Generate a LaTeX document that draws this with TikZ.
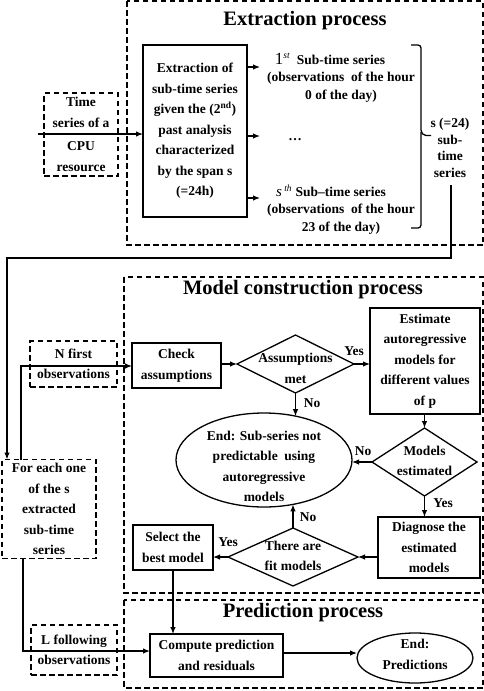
\documentclass[tikz,border=0pt]{standalone}
\usepackage{fontspec}
\setmainfont{Liberation Serif}
\usetikzlibrary{shapes.geometric,arrows.meta,calc}
\begin{document}
\begin{tikzpicture}[x=1pt,y=-1pt,
  every node/.style={font=\fontsize{13.5}{20.5}\selectfont\bfseries, align=center, inner sep=0pt, outer sep=0pt},
  sbox/.style={draw, line width=1.3pt, rectangle},
  dbox/.style={draw, line width=1.3pt, dash pattern=on 5.5pt off 3.5pt},
  diam/.style={draw, line width=1.3pt, diamond},
  ell/.style={draw, line width=1.3pt, ellipse},
  arr/.style={-{Latex[length=7pt,width=5.5pt]}, line width=1.2pt},
  ttl/.style={font=\fontsize{20.5}{24}\selectfont\bfseries},
  subtxt/.style={font=\fontsize{13.5}{17.5}\selectfont\bfseries},
  lbl/.style={font=\fontsize{13.5}{16}\selectfont\bfseries}
]
\useasboundingbox (0,0) rectangle (484,691);

% process frames
\draw[dbox] (127,1) rectangle (483,245);
\draw[dbox] (124,277) rectangle (483,593);
\draw[dbox] (124,600) rectangle (483,688);

\node[ttl] (t1) at (305,21) {Extraction process};
\node[ttl] (t2) at (303,290) {Model construction process};
\node[ttl] (t3) at (303,613) {Prediction process};

% extraction
\node[sbox, minimum width=104pt, minimum height=172pt] (extr) at (195,131)
  {Extraction of\\sub-time series\\given the (2\textsuperscript{nd})\\past analysis\\characterized\\by the span s\\(=24h)};
\node[dbox, minimum width=74pt, minimum height=83pt] (time) at (81,134.5)
  {Time\\series of a\\[3pt]CPU\\resource};
\coordinate (tin) at (38,134);
\draw[arr] (tin) -- (tin -| extr.west);

\node[subtxt] (sub1) at (341,77.5)
  {{\fontsize{17}{17}\selectfont\mdseries 1}\textsuperscript{\mdseries\itshape st}~~Sub-time series\hspace*{22pt}\\(observations~ of the hour\\0 of the day)};
\node (dots) at (295,140) {\dots};
\node[subtxt] (subs) at (341,209.5)
  {{\fontsize{15}{15}\selectfont\mdseries\itshape s}\textsuperscript{\mdseries\itshape ~th}~Sub--time series\hspace*{20pt}\\(observations~ of the hour\\23 of the day)};

\coordinate (o1) at (260,67);
\coordinate (o2) at (260,136);
\coordinate (o3) at (260,198);
\draw[arr] (extr.east |- o1) -- (o1);
\draw[arr] (extr.east |- o2) -- (o2);
\draw[arr] (extr.east |- o3) -- (o3);

% brace
\draw[line width=1.3pt] (411,45) -- (418,45) to[out=0,in=90] (421,48) -- (421,130)
  to[out=-90,in=180] (426,135.5) -- (431,135.5);
\draw[line width=1.3pt] (421,132) -- (421,225) to[out=-90,in=0] (418,228) -- (411,228);
\node[font=\fontsize{13.5}{16.7}\selectfont\bfseries] (blab) at (450,148) {s (=24)\\sub-\\time\\series};

% left side
\node[dbox, minimum width=94pt, minimum height=99pt] (foreach) at (49,509)
  {For each one\\of the s\\extracted\\sub-time\\series};
\coordinate (bl) at (451,185);
\coordinate (c1) at (451,258);
\coordinate (c2) at (7,258);
\draw[arr] (bl) -- (c1) -- (c2) -- (c2 |- foreach.north);

\node[dbox, minimum width=87pt, minimum height=46pt] (nfirst) at (73.5,364) {N first\\observations};
\node[dbox, minimum width=86pt, minimum height=50pt] (lfollow) at (74,650) {L following\\observations};

% model construction
\node[sbox, minimum width=89pt, minimum height=45pt] (check) at (176.5,365.5) {Check\\assumptions};
\coordinate (u1) at (21,366);
\draw[arr] (foreach.north -| u1) -- (u1) -- (u1 -| check.west);

\node[diam, minimum width=117pt, minimum height=58pt] (assume) at (295.5,364) {};
\node (assumeT) at (295.5,368.5) {Assumptions\\met};
\draw[arr] (check.east |- assume) -- (assume.west);

\node[sbox, minimum width=110pt, minimum height=106pt] (estim) at (425,361)
  {Estimate\\autoregressive\\models for\\different values\\of p};
\draw[arr] (assume.east) -- (assume.east -| estim.west);
\node[lbl] (yes1) at (354,351) {Yes};

\node[ell, minimum width=176pt, minimum height=94pt] (endns) at (264,460) {};
\node (endnsT) at (264,466.5) {End: Sub-series not\\predictable~ using\\autoregressive\\models};
\draw[arr] (assume.south) -- (assume.south |- endns.54);
\node[lbl] (no1) at (312,403) {No};

\node[diam, minimum width=105pt, minimum height=68pt] (models) at (424.5,462) {};
\node (modelsT) at (424.5,461) {Models\\estimated};
\draw[arr] (estim.south -| models.north) -- (models.north);
\draw[arr] (models.west) -- (models.west -| endns.east);
\node[lbl] (no2) at (363,451) {No};

\node[sbox, minimum width=102pt, minimum height=61pt] (diag) at (429,547.5) {Diagnose the\\estimated\\models};
\draw[arr] (models.south) -- (models.south |- diag.north);
\node[lbl] (yes2) at (443,503) {Yes};

\node[diam, minimum width=130pt, minimum height=58pt] (fit) at (293,557) {};
\node (fitT) at (293,556) {There are\\fit models};
\draw[arr] (diag.west |- fit) -- (fit.east);
\draw[arr] (fit.north) -- (fit.north |- endns.-57);
\node[lbl] (no3) at (308,517) {No};

\node[sbox, minimum width=80pt, minimum height=45pt] (select) at (173,547.5) {Select the\\best model};
\draw[arr] (fit.west) -- (fit.west -| select.east);
\node[lbl] (yes3) at (228,542) {Yes};

% prediction
\node[sbox, minimum width=133pt, minimum height=43pt] (compute) at (216.5,655.5) {Compute prediction\\and residuals};
\draw[arr] (select.south) -- (select.south |- compute.north);
\coordinate (l1) at (23,651);
\draw[arr] (foreach.south -| l1) -- (l1) -- (l1 -| compute.west);

\node[ell, minimum width=116pt, minimum height=50pt] (endpred) at (415,658) {};
\node (endpredT) at (415,654.5) {End:\\Predictions};
\coordinate (p1) at (283,653);
\draw[arr] (compute.east |- p1) -- (p1 -| endpred.west);
\end{tikzpicture}
\end{document}
